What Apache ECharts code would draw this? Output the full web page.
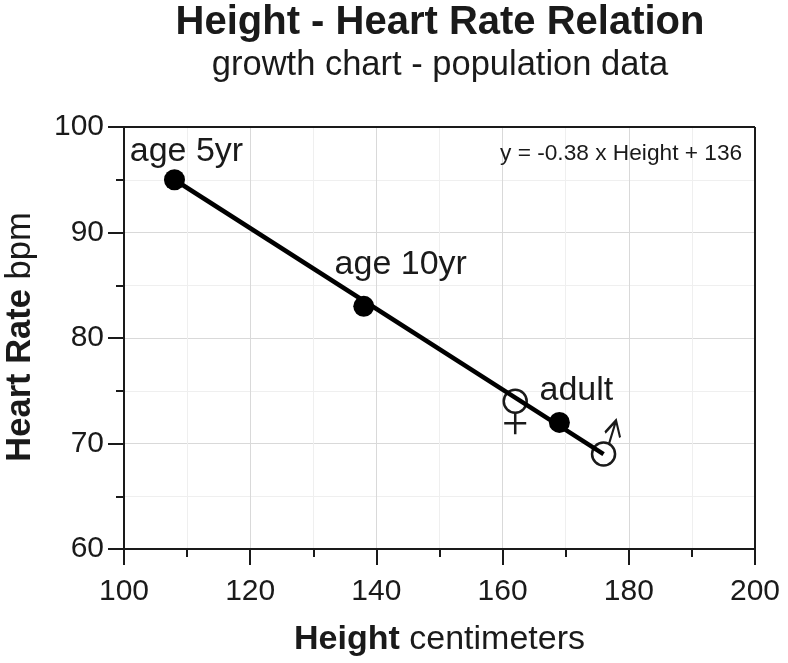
<!DOCTYPE html>
<html>
<head>
	<title>Height - Heart Rate Relation</title>
	<meta charset="utf-8" />
	<script type="text/javascript" src="https://cdn.jsdelivr.net/npm/echarts@6/dist/echarts.min.js"></script>
	<style type="text/css">
		html, body{ margin: 0; padding: 0; background-color: #fff; }
		#container{ width: 788px; height: 663px; }
	</style>
</head>
<body>
<div id="container"></div>
<script type="text/javascript">
	var fitLine = [[108, 95], [176, 69]];
	var filledPoints = [[108, 95], [138, 83], [169, 72]];
	var filledLabels = ['age 5yr', 'age 10yr', 'adult'];
	var femalePoint = [[162, 74]];
	var malePoint = [[176, 69]];
	var xTicks = [100, 200];
	var yTicks = [60, 100];
	var equation = 'y = -0.38 x Height + 136';

	var font = '"Liberation Sans", Arial, sans-serif';
	var ink = '#1a1a1a';
	var labelOffsets = [[12, -28], [37, -42], [17, -32]];

	var chart = echarts.init(document.getElementById('container'));

	var options = {
		animation: false,
		textStyle: { fontFamily: font, color: ink },
		title: [
			{ text: 'Height - Heart Rate Relation', left: 435, top: -2, textAlign: 'center',
				textStyle: { fontFamily: font, fontSize: 40, fontWeight: 'bold', color: ink } },
			{ text: 'growth chart - population data', left: 435, top: 43, textAlign: 'center',
				textStyle: { fontFamily: font, fontSize: 34.5, fontWeight: 'normal', color: ink } },
			{ text: equation, left: 495, top: 137,
				textStyle: { fontFamily: font, fontSize: 22.7, fontWeight: 'normal', color: ink } }
		],
		grid: { left: 124, top: 127, width: 631, height: 422, outerBoundsMode: 'none' },
		xAxis: [
			{
				type: 'value', min: xTicks[0], max: xTicks[1], interval: 20,
				name: '{b|Height} centimeters', nameLocation: 'middle', nameGap: 74,
				nameTextStyle: { rich: {
					b: { fontFamily: font, fontSize: 34, fontWeight: 'bold', color: ink }
				}, fontFamily: font, fontSize: 34, color: ink },
				axisLine: { show: true, onZero: false, lineStyle: { color: ink, width: 2 } },
				axisTick: { show: true, length: 16, lineStyle: { color: ink, width: 2 } },
				minorTick: { show: true, splitNumber: 2, length: 8, lineStyle: { color: ink, width: 2 } },
				axisLabel: { fontFamily: font, fontSize: 30, color: ink, margin: 28 },
				splitLine: { show: true, lineStyle: { color: '#d9d9d9', width: 1 } },
				minorSplitLine: { show: true, lineStyle: { color: '#efefef', width: 1 } }
			},
			// second axis only redraws the long ticks below the labelled one
			{
				type: 'value', position: 'bottom', min: xTicks[0], max: xTicks[1], interval: 20,
				axisLine: { show: false, onZero: false },
				axisTick: { show: true, length: 16, lineStyle: { color: ink, width: 2 } },
				axisLabel: { show: false },
				splitLine: { show: false }
			}
		],
		yAxis: {
			type: 'value', min: yTicks[0], max: yTicks[1], interval: 10,
			name: '{b|Heart Rate} {n|bpm}', nameLocation: 'middle', nameGap: 86, nameRotate: 90,
			nameTextStyle: { rich: {
				b: { fontFamily: font, fontSize: 34.5, fontWeight: 'bold', color: ink },
				n: { fontFamily: font, fontSize: 34.5, color: ink }
			}, fontFamily: font, fontSize: 34.5, color: ink, padding: [0, 0, 0, 2] },
			axisLine: { show: true, onZero: false, lineStyle: { color: ink, width: 2 } },
			axisTick: { show: true, length: 16, lineStyle: { color: ink, width: 2 } },
			minorTick: { show: true, splitNumber: 2, length: 8, lineStyle: { color: ink, width: 2 } },
			axisLabel: { fontFamily: font, fontSize: 30, color: ink, margin: 20 },
			splitLine: { show: true, lineStyle: { color: '#d9d9d9', width: 1 } },
			minorSplitLine: { show: true, lineStyle: { color: '#efefef', width: 1 } }
		},
		series: [
			{
				name: 'top and right frame', type: 'line', silent: true, symbol: 'none', z: 1,
				data: [],
				markLine: {
					silent: true, symbol: 'none', label: { show: false },
					lineStyle: { color: ink, width: 2, type: 'solid', opacity: 1 },
					data: [
						[{ coord: [xTicks[0], yTicks[1]] }, { coord: [xTicks[1], yTicks[1]] }],
						[{ coord: [xTicks[1], yTicks[0]] }, { coord: [xTicks[1], yTicks[1]] }]
					]
				}
			},
			{
				name: 'fit', type: 'line', data: fitLine, symbol: 'none', z: 3,
				lineStyle: { color: '#000', width: 4.5 }
			},
			{
				name: 'population', type: 'scatter', z: 4, symbol: 'circle', symbolSize: 21,
				itemStyle: { color: '#000', opacity: 1 },
				data: filledPoints.map(function(p, i){
					return {
						value: p,
						label: {
							show: true, formatter: filledLabels[i], position: 'inside',
							offset: labelOffsets[i],
							fontFamily: font, fontSize: 34, color: ink
						}
					};
				})
			},
			{
				name: 'female ring', type: 'scatter', z: 2, data: femalePoint, symbol: 'circle', symbolSize: 23,
				itemStyle: { color: '#fff', borderColor: ink, borderWidth: 2.5, opacity: 1 }
			},
			{
				name: 'female cross', type: 'scatter', z: 2, data: femalePoint,
				symbol: 'path://M0 11H22M11 0V22', symbolSize: 22, symbolOffset: [0, 22],
				itemStyle: { color: 'none', borderColor: ink, borderWidth: 2.5, opacity: 1 }
			},
			{
				name: 'male ring', type: 'scatter', z: 2, data: malePoint, symbol: 'circle', symbolSize: 23,
				itemStyle: { color: '#fff', borderColor: ink, borderWidth: 2.5, opacity: 1 }
			},
			{
				name: 'male arrow', type: 'scatter', z: 2, data: malePoint,
				symbol: 'path://M4 23L11 0M0 12L11 0L15 17', symbolSize: [15, 23], symbolOffset: [9, -22],
				itemStyle: { color: 'none', borderColor: ink, borderWidth: 2.5, opacity: 1 }
			}
		]
	};

	chart.setOption(options);
</script>
</body>
</html>
